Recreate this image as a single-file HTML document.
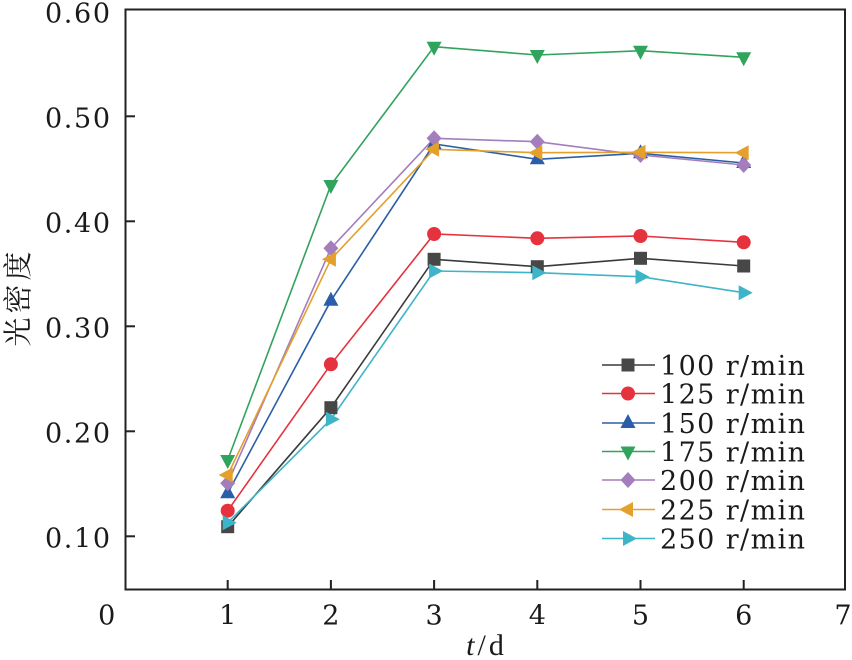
<!DOCTYPE html>
<html><head><meta charset="utf-8"><style>
html,body{margin:0;padding:0;background:#fff;}
svg{display:block;}
svg text{font-family:"DejaVu Serif","Liberation Serif",serif;fill:#1a1a1a;}
svg text.lib{font-family:"Liberation Serif","DejaVu Serif",serif;}
svg text.cjk{font-family:"Noto Serif CJK SC","Noto Sans CJK SC",serif;}
</style></head><body>
<svg width="852" height="660" viewBox="0 0 852 660" xmlns="http://www.w3.org/2000/svg">
<defs>
<rect id="sq" x="-6.5" y="-6.5" width="13" height="13" fill="#474747"/>
<circle id="ci" r="7" fill="#e5323e"/>
<polygon id="tu" points="0,-9 7.5,5 -7.5,5" fill="#2b5ea8"/>
<polygon id="td" points="0,9 7.5,-5 -7.5,-5" fill="#30a35d"/>
<polygon id="di" points="0,-8 7.5,0 0,8 -7.5,0" fill="#a47dbd"/>
<polygon id="tl" points="-9,0 5,-7.5 5,7.5" fill="#e3a02b"/>
<polygon id="tr" points="9,0 -5,-7.5 -5,7.5" fill="#3eb4c8"/>
</defs>

<rect x="125.5" y="9.5" width="719.5" height="580" fill="none" stroke="#222" stroke-width="2"/>
<g stroke="#222" stroke-width="2">
<line x1="125.5" y1="116.3" x2="135" y2="116.3"/>
<line x1="125.5" y1="221.3" x2="135" y2="221.3"/>
<line x1="125.5" y1="326.3" x2="135" y2="326.3"/>
<line x1="125.5" y1="431.3" x2="135" y2="431.3"/>
<line x1="125.5" y1="536.3" x2="135" y2="536.3"/>
<line x1="227.7" y1="589.5" x2="227.7" y2="580"/>
<line x1="330.9" y1="589.5" x2="330.9" y2="580"/>
<line x1="434.1" y1="589.5" x2="434.1" y2="580"/>
<line x1="537.3" y1="589.5" x2="537.3" y2="580"/>
<line x1="640.5" y1="589.5" x2="640.5" y2="580"/>
<line x1="743.7" y1="589.5" x2="743.7" y2="580"/>
</g>
<g font-size="27" text-anchor="end" font-weight="normal">
<text x="110" y="22.5" textLength="65" lengthAdjust="spacing">0.60</text>
<text x="110" y="127.5" textLength="65" lengthAdjust="spacing">0.50</text>
<text x="110" y="232.5" textLength="65" lengthAdjust="spacing">0.40</text>
<text x="110" y="337.5" textLength="65" lengthAdjust="spacing">0.30</text>
<text x="110" y="442.5" textLength="65" lengthAdjust="spacing">0.20</text>
<text x="110" y="547.5" textLength="65" lengthAdjust="spacing">0.10</text>
</g>
<g font-size="27" text-anchor="middle">
<text x="106.7" y="624.5">0</text>
<text x="227.7" y="624.5">1</text>
<text x="330.9" y="624.5">2</text>
<text x="434.1" y="624.5">3</text>
<text x="537.3" y="624.5">4</text>
<text x="640.5" y="624.5">5</text>
<text x="743.7" y="624.5">6</text>
<text x="843" y="624.5">7</text>
</g>
<text class="lib" x="485" y="655" font-size="30" text-anchor="middle"><tspan font-style="italic">t</tspan><tspan dx="3">/</tspan><tspan dx="3">d</tspan></text>
<text class="cjk" transform="translate(28,297) rotate(-90)" font-size="29" text-anchor="middle" letter-spacing="4">光密度</text>

<g fill="none" stroke-width="1.6">
<polyline stroke="#3a3a3a" points="227.7,526.7 330.9,407.7 434.1,259.3 537.3,266.7 640.5,258.3 743.7,266"/>
<polyline stroke="#e5323e" points="227.7,510.7 330.9,364.3 434.1,234 537.3,238.3 640.5,236 743.7,242.3"/>
<polyline stroke="#2b5ea8" points="227.7,493.3 330.9,300.7 434.1,144 537.3,159.3 640.5,153.3 743.7,163"/>
<polyline stroke="#30a35d" points="227.7,460 330.9,185 434.1,46.7 537.3,55 640.5,50.7 743.7,57.3"/>
<polyline stroke="#a47dbd" points="227.7,483.3 330.9,248.3 434.1,138.3 537.3,141.7 640.5,155 743.7,165"/>
<polyline stroke="#e3a02b" points="227.7,475 330.9,259.3 434.1,149.3 537.3,152.7 640.5,152.3 743.7,152.7"/>
<polyline stroke="#3eb4c8" points="227.7,522.7 330.9,419.3 434.1,271 537.3,272.7 640.5,276.7 743.7,292.7"/>
</g>
<g>
<use href="#sq" x="227.7" y="526.7"/><use href="#sq" x="330.9" y="407.7"/><use href="#sq" x="434.1" y="259.3"/><use href="#sq" x="537.3" y="266.7"/><use href="#sq" x="640.5" y="258.3"/><use href="#sq" x="743.7" y="266"/>
<use href="#ci" x="227.7" y="510.7"/><use href="#ci" x="330.9" y="364.3"/><use href="#ci" x="434.1" y="234"/><use href="#ci" x="537.3" y="238.3"/><use href="#ci" x="640.5" y="236"/><use href="#ci" x="743.7" y="242.3"/>
<use href="#tu" x="227.7" y="493.3"/><use href="#tu" x="330.9" y="300.7"/><use href="#tu" x="434.1" y="144"/><use href="#tu" x="537.3" y="159.3"/><use href="#tu" x="640.5" y="153.3"/><use href="#tu" x="743.7" y="163"/>
<use href="#td" x="227.7" y="460"/><use href="#td" x="330.9" y="185"/><use href="#td" x="434.1" y="46.7"/><use href="#td" x="537.3" y="55"/><use href="#td" x="640.5" y="50.7"/><use href="#td" x="743.7" y="57.3"/>
<use href="#di" x="227.7" y="483.3"/><use href="#di" x="330.9" y="248.3"/><use href="#di" x="434.1" y="138.3"/><use href="#di" x="537.3" y="141.7"/><use href="#di" x="640.5" y="155"/><use href="#di" x="743.7" y="165"/>
<use href="#tl" x="227.7" y="475"/><use href="#tl" x="330.9" y="259.3"/><use href="#tl" x="434.1" y="149.3"/><use href="#tl" x="537.3" y="152.7"/><use href="#tl" x="640.5" y="152.3"/><use href="#tl" x="743.7" y="152.7"/>
<use href="#tr" x="227.7" y="522.7"/><use href="#tr" x="330.9" y="419.3"/><use href="#tr" x="434.1" y="271"/><use href="#tr" x="537.3" y="272.7"/><use href="#tr" x="640.5" y="276.7"/><use href="#tr" x="743.7" y="292.7"/>
</g>

<g stroke-width="1.6">
<line x1="602" y1="365" x2="655" y2="365" stroke="#3a3a3a"/>
<line x1="602" y1="393.5" x2="655" y2="393.5" stroke="#e5323e"/>
<line x1="602" y1="423" x2="655" y2="423" stroke="#2b5ea8"/>
<line x1="602" y1="451.5" x2="655" y2="451.5" stroke="#30a35d"/>
<line x1="602" y1="480" x2="655" y2="480" stroke="#a47dbd"/>
<line x1="602" y1="509.5" x2="655" y2="509.5" stroke="#e3a02b"/>
<line x1="602" y1="538.5" x2="655" y2="538.5" stroke="#3eb4c8"/>
</g>
<use href="#sq" x="628" y="365"/>
<use href="#ci" x="628" y="393.5"/>
<use href="#tu" x="628" y="423"/>
<use href="#td" x="628" y="451.5"/>
<use href="#di" x="628" y="480"/>
<use href="#tl" x="628" y="509.5"/>
<use href="#tr" x="628" y="538.5"/>
<g font-size="27">
<text x="660" y="375" textLength="145" lengthAdjust="spacing">100 r/min</text>
<text x="660" y="403.5" textLength="145" lengthAdjust="spacing">125 r/min</text>
<text x="660" y="433" textLength="145" lengthAdjust="spacing">150 r/min</text>
<text x="660" y="461.5" textLength="145" lengthAdjust="spacing">175 r/min</text>
<text x="660" y="490" textLength="145" lengthAdjust="spacing">200 r/min</text>
<text x="660" y="519.5" textLength="145" lengthAdjust="spacing">225 r/min</text>
<text x="660" y="548.5" textLength="145" lengthAdjust="spacing">250 r/min</text>
</g>
</svg>
</body></html>
